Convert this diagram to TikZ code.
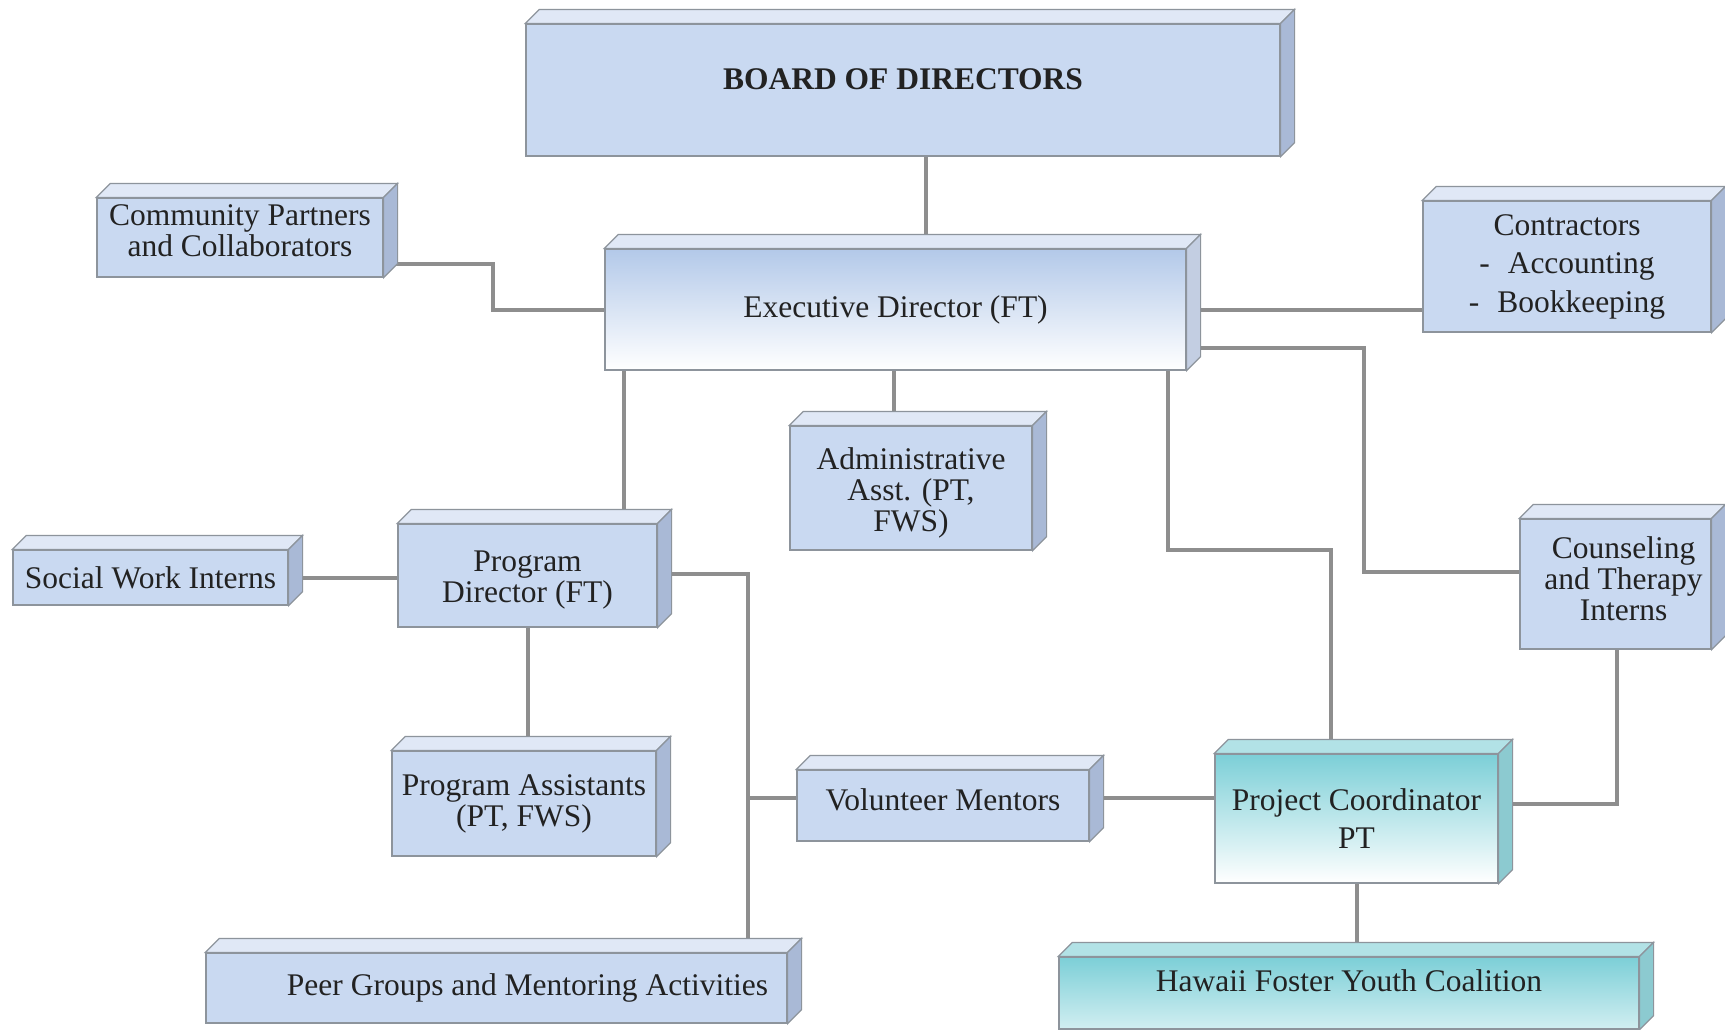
\documentclass[tikz,border=0pt]{standalone}
\usepackage{fontspec}
\setmainfont{Liberation Serif}
\pgfdeclarelayer{bg}
\pgfsetlayers{bg,main}
\definecolor{fb}{HTML}{C9D9F1}
\definecolor{tb}{HTML}{E0E8F6}
\definecolor{sb}{HTML}{A9B9D6}
\definecolor{edgec}{HTML}{8D949C}
\definecolor{connc}{HTML}{8E8E8E}
\definecolor{tealc}{HTML}{7CCFD7}
\definecolor{tealtop}{HTML}{B2E2E6}
\definecolor{tealside}{HTML}{8CCAD0}
\definecolor{execc}{HTML}{B3C9E9}
\definecolor{txtc}{HTML}{222222}
\tikzset{
  box/.style={draw=edgec, line width=1.2pt, fill=fb, rectangle, inner sep=0pt,
    align=center, text=txtc, font=\fontsize{31.5}{31}\selectfont},
  widebox/.style={font=\fontsize{31.5}{38.5}\selectfont},
  link/.style={draw=connc, line width=4pt},
  bevel/.style={draw=edgec, line width=1.2pt},
}
\newcommand\drawbevel[3]{%
  \filldraw[bevel, fill=#2] (#1.north west) -- ([shift={(14pt,14pt)}]#1.north west)
    -- ([shift={(14pt,14pt)}]#1.north east) -- (#1.north east) -- cycle;
  \filldraw[bevel, fill=#3] (#1.north east) -- ([shift={(14pt,14pt)}]#1.north east)
    -- ([shift={(14pt,14pt)}]#1.south east) -- (#1.south east) -- cycle;
}
\begin{document}
\begin{tikzpicture}[x=1pt, y=-1pt]
\useasboundingbox (0,0) rectangle (1725,1029);
\begin{pgfonlayer}{bg}
\fill[white] (0,0) rectangle (1725,1029);
\end{pgfonlayer}

% boxes
\node[box, minimum width=754, minimum height=132] (board) at (903,90) {\textbf{BOARD OF DIRECTORS}\\[-9pt]};
\drawbevel{board}{tb}{sb}
\node[box, minimum width=286, minimum height=79] (comm) at (240,237.5) {Community Partners\\and Collaborators\\[-17pt]};
\drawbevel{comm}{tb}{sb}
\node[box, draw=edgec, top color=execc, middle color=execc!70!white, bottom color=white, minimum width=581, minimum height=121] (exec) at (895.5,309.5) {Executive Director (FT)};
\drawbevel{exec}{tb}{sb!70!white}
\node[box, widebox, minimum width=288, minimum height=131] (contr) at (1567,266.5) {Contractors\\-\hspace{18pt}Accounting\\-\hspace{18pt}Bookkeeping};
\drawbevel{contr}{tb}{sb}
\node[box, minimum width=242, minimum height=124] (admin) at (911,488) {\mbox{}\\[1pt]Administrative\\Asst. (PT,\\FWS)};
\drawbevel{admin}{tb}{sb}
\node[box, minimum width=275, minimum height=55] (social) at (150.5,577.5) {Social Work Interns};
\drawbevel{social}{tb}{sb}
\node[box, minimum width=259, minimum height=103] (progdir) at (527.5,575.5) {\mbox{}\\[-1pt]Program\\Director (FT)};
\drawbevel{progdir}{tb}{sb}
\node[box, minimum width=191, minimum height=130] (couns) at (1615.5,584) {\hspace*{16pt}Counseling\\\hspace*{16pt}and Therapy\\\hspace*{16pt}Interns\\[-20pt]};
\drawbevel{couns}{tb}{sb}
\node[box, minimum width=264, minimum height=105] (progasst) at (524,803.5) {Program Assistants\\(PT, FWS)};
\drawbevel{progasst}{tb}{sb}
\node[box, minimum width=292, minimum height=71] (vol) at (943,805.5) {Volunteer Mentors\\[-20pt]};
\drawbevel{vol}{tb}{sb}
\node[box, widebox, top color=tealc, middle color=tealc!55!white, bottom color=white, minimum width=283, minimum height=129] (proj) at (1356.5,818.5) {Project Coordinator\\PT};
\drawbevel{proj}{tealtop}{tealside}
\node[box, minimum width=581, minimum height=70] (peer) at (496.5,988) {\hspace*{62pt}Peer Groups and Mentoring Activities};
\drawbevel{peer}{tb}{sb}
\node[box, top color=tealc, bottom color=tealc!35!white, minimum width=580, minimum height=72] (hawaii) at (1349,993) {Hawaii Foster Youth Coalition\\[-6pt]};
\drawbevel{hawaii}{tealtop}{tealside}

% bend coordinates
\coordinate (x926) at (926,0);
\coordinate (b1) at (493,264);
\coordinate (b2) at (1364,572);
\coordinate (b3) at (624,0);
\coordinate (b4) at (894,0);
\coordinate (b5) at (1168,550);
\coordinate (b6) at (1331,550);
\coordinate (b7) at (748,574);
\coordinate (b8) at (1617,804);

\begin{pgfonlayer}{bg}
\draw[link] (board.south -| x926) -- (exec.north -| x926);
\draw[link] ([yshift=-26.5pt]comm.east) -- (b1) |- (exec.west);
\draw[link] (exec.east) -- (contr.west |- exec.east);
\draw[link] ([yshift=-38.5pt]exec.east) -| (b2) -- (couns.west |- b2);
\draw[link] (exec.south -| b3) -- (progdir.north -| b3);
\draw[link] (exec.south -| b4) -- (admin.north -| b4);
\draw[link] (exec.south -| b5) -- (b5) -- (b6) -- (proj.north -| b6);
\draw[link] (social.east) -- (progdir.west |- social.east);
\draw[link] (progdir.south) -- (progasst.north -| progdir.south);
\draw[link] (progdir.east |- b7) -- (b7) -- (peer.north -| b7);
\draw[link] (b7 |- vol.west) ++(0,-8) -- ([yshift=8pt]vol.west);
\draw[link] ([yshift=8pt]vol.east) -- ([yshift=8pt]proj.west |- vol.east);
\draw[link] (couns.south -| b8) -- (b8) -- (proj.east |- b8);
\draw[link] (proj.south) -- (hawaii.north -| proj.south);
\end{pgfonlayer}
\end{tikzpicture}
\end{document}
